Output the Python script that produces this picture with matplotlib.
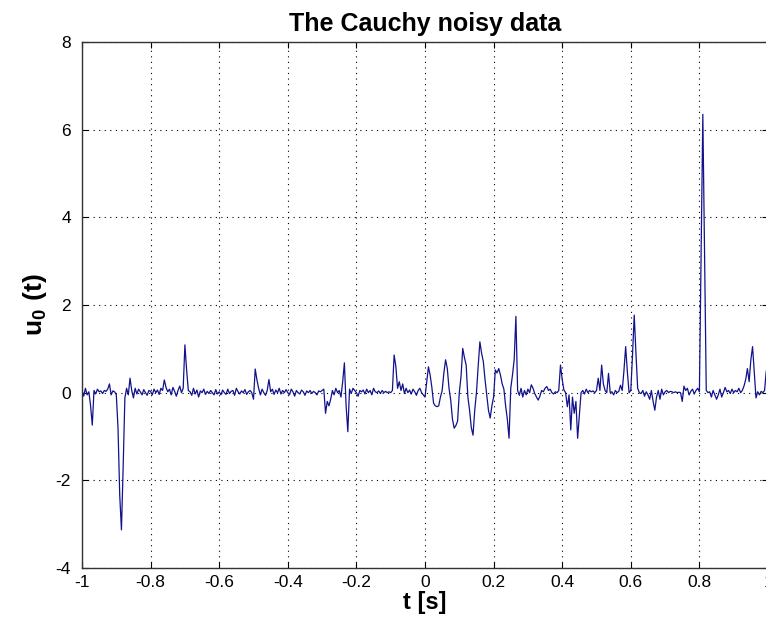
import numpy as np
import matplotlib
matplotlib.use('Agg')
import matplotlib.pyplot as plt

# ── Data (step 0.005 s) ─────────────────────────────────────
t = np.linspace(-1.0, 1.0, 401)

u0_rows = [
    # -1.000 .. -0.905
    [0.05, -0.08, 0.10, -0.05, 0.02, -0.30, -0.74, 0.05, -0.03, 0.08,
     0.02, 0.04, -0.02, 0.05, 0.03, 0.08, 0.20, -0.05, 0.04, 0.02],
    # -0.900 .. -0.805
    [-0.05, -0.81, -2.34, -3.13, -1.69, -0.12, 0.10, -0.05, 0.33, 0.05,
     -0.12, 0.10, -0.03, 0.08, 0.02, -0.05, 0.07, 0.00, -0.06, 0.05],
    # -0.800 .. -0.705
    [0.03, -0.05, 0.08, 0.00, 0.06, -0.04, 0.10, 0.05, 0.29, 0.12,
     0.02, 0.08, -0.05, 0.12, 0.03, -0.08, 0.05, 0.15, 0.00, 0.10],
    # -0.700 .. -0.605
    [1.09, 0.52, 0.05, 0.02, -0.06, 0.10, -0.03, 0.06, -0.10, 0.04,
     0.00, 0.08, -0.04, 0.03, -0.02, 0.05, 0.00, -0.05, 0.07, -0.03],
    # -0.600 .. -0.505
    [0.02, -0.05, 0.06, 0.00, -0.04, 0.08, -0.02, 0.03, 0.05, -0.06,
     0.10, 0.02, -0.03, 0.04, 0.00, 0.07, -0.04, 0.02, 0.05, 0.00],
    # -0.500 .. -0.405
    [-0.15, 0.54, 0.29, 0.10, -0.05, 0.08, 0.00, -0.06, 0.05, 0.30,
     0.02, 0.08, -0.04, 0.06, 0.00, 0.10, -0.03, 0.05, 0.00, 0.07],
    # -0.400 .. -0.305
    [0.00, -0.05, 0.08, 0.02, -0.08, 0.05, 0.00, -0.03, 0.06, 0.02,
     -0.06, 0.04, 0.00, 0.05, -0.02, 0.03, 0.00, -0.05, 0.04, 0.02],
    # -0.300 .. -0.205
    [0.05, 0.08, -0.47, -0.20, -0.30, -0.15, 0.05, -0.05, 0.10, 0.00,
     0.05, -0.10, 0.25, 0.68, -0.30, -0.89, 0.08, -0.02, 0.10, 0.05],
    # -0.200 .. -0.105
    [0.00, -0.08, 0.05, 0.02, 0.06, -0.03, 0.08, 0.00, 0.05, -0.05,
     0.10, 0.02, 0.00, 0.04, -0.02, 0.05, 0.00, 0.03, 0.00, 0.02],
    # -0.100 .. -0.005
    [0.00, 0.05, 0.86, 0.60, 0.10, 0.25, 0.05, 0.20, -0.02, 0.10,
     0.00, 0.06, -0.03, 0.08, 0.02, -0.06, 0.05, 0.10, 0.00, -0.05],
    # 0.000 .. 0.095
    [-0.10, 0.25, 0.59, 0.40, 0.12, -0.24, -0.30, -0.32, -0.30, -0.10,
     0.05, 0.45, 0.75, 0.55, 0.10, -0.17, -0.60, -0.81, -0.75, -0.65],
    # 0.100 .. 0.195
    [0.00, 0.37, 1.01, 0.80, 0.63, -0.10, -0.40, -0.80, -0.97, -0.40,
     0.00, 0.60, 1.16, 0.90, 0.71, 0.30, -0.06, -0.40, -0.58, -0.30],
    # 0.200 .. 0.295
    [-0.10, 0.52, 0.45, 0.55, 0.40, 0.20, 0.08, -0.30, -0.60, -1.04,
     0.10, 0.40, 0.75, 1.74, 0.05, -0.06, 0.10, -0.10, 0.05, -0.05],
    # 0.300 .. 0.395
    [0.08, 0.00, 0.18, 0.10, -0.02, -0.10, -0.17, -0.08, 0.05, 0.02,
     0.10, 0.14, 0.05, 0.08, 0.00, -0.03, 0.02, 0.00, 0.05, 0.63],
    # 0.400 .. 0.495
    [0.30, 0.06, 0.00, -0.32, -0.05, -0.85, -0.10, -0.47, -0.20, -1.04,
     -0.53, 0.00, 0.05, -0.03, 0.08, 0.00, 0.05, 0.02, 0.04, 0.00],
    # 0.500 .. 0.595
    [0.05, 0.33, 0.05, 0.63, 0.20, 0.05, 0.00, 0.44, 0.00, 0.02,
     -0.05, 0.05, 0.00, 0.03, 0.17, 0.05, 0.50, 1.05, 0.47, 0.00],
    # 0.600 .. 0.695
    [0.05, 0.86, 1.77, 0.90, 0.10, 0.00, -0.02, 0.05, -0.08, 0.02,
     -0.05, -0.15, 0.05, -0.20, -0.40, -0.10, 0.05, -0.15, 0.08, -0.05],
    # 0.700 .. 0.795
    [0.02, 0.05, 0.00, 0.03, 0.02, 0.00, 0.02, 0.00, 0.01, 0.00,
     -0.20, 0.15, 0.05, 0.10, -0.05, 0.03, 0.08, -0.03, 0.05, 0.10],
    # 0.800 .. 0.895
    [0.02, 3.19, 6.35, 3.19, 0.05, 0.00, 0.02, -0.10, 0.05, -0.05,
     -0.15, -0.05, 0.08, -0.10, 0.00, 0.12, 0.02, 0.05, -0.02, 0.08],
    # 0.900 .. 0.995
    [0.00, 0.05, 0.02, 0.10, 0.00, 0.05, 0.15, 0.30, 0.55, 0.25,
     0.75, 1.05, 0.45, -0.12, 0.02, -0.05, 0.03, 0.00, 0.05, 0.50],
    # 1.000
    [0.05],
]
u0 = np.concatenate([np.array(r) for r in u0_rows])

x_ticks = [-1, -0.8, -0.6, -0.4, -0.2, 0, 0.2, 0.4, 0.6, 0.8, 1]
x_labels = ['-1', '-0.8', '-0.6', '-0.4', '-0.2', '0', '0.2', '0.4', '0.6', '0.8', '1']
y_ticks = [-4, -2, 0, 2, 4, 6, 8]
y_labels = ['-4', '-2', '0', '2', '4', '6', '8']

# ── Style ───────────────────────────────────────────────────
LINE = '#12128c'
FONT = ['Liberation Sans', 'DejaVu Sans']

plt.rcParams.update({
    'font.family': FONT,
    'font.size': 12.5,
    'axes.unicode_minus': False,
    'mathtext.fontset': 'custom',
    'mathtext.rm': 'Liberation Sans',
    'mathtext.bf': 'Liberation Sans:bold',
    'axes.edgecolor': '#333333',
    'axes.linewidth': 1.0,
    'xtick.direction': 'in',
    'ytick.direction': 'in',
    'xtick.major.size': 4,
    'ytick.major.size': 4,
})

fig = plt.figure(figsize=(7.66, 6.30), dpi=100)
ax = fig.add_axes([82 / 766, 1 - 568 / 630, 686 / 766, 526 / 630])

ax.plot(t, u0, color=LINE, linewidth=0.9)

ax.set_xlim(-1, 1)
ax.set_ylim(-4, 8)
ax.set_xticks(x_ticks)
ax.set_xticklabels(x_labels)
ax.set_yticks(y_ticks)
ax.set_yticklabels(y_labels)
ax.tick_params(top=True, right=True)
ax.tick_params(axis='x', pad=5)
ax.tick_params(axis='y', pad=8)
ax.grid(True, color='black', linestyle=(0, (1, 4)), linewidth=0.8)

ax.set_title('The Cauchy noisy data', fontsize=18, fontweight='bold', pad=8)
ax.set_xlabel('t [s]', fontsize=17, fontweight='bold', labelpad=1)
ax.set_ylabel(r'$\mathbf{u_0\ (t)}$', fontsize=19, labelpad=5)

fig.savefig('out.png', dpi=100)
